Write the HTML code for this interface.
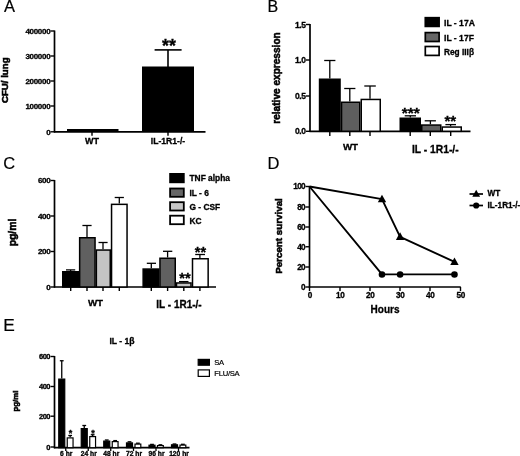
<!DOCTYPE html>
<html lang="en"><head><meta charset="utf-8"><title>Figure</title>
<style>
html,body{margin:0;padding:0;background:#fff;}
body{width:520px;height:456px;overflow:hidden;}
svg{display:block;filter:blur(0.4px);}
svg text{font-family:"Liberation Sans",Arial,Helvetica,sans-serif;fill:#000;}
</style></head><body>
<svg width="520" height="456" viewBox="0 0 520 456">
<rect x="0" y="0" width="520" height="456" fill="#fff"/>
<text x="3.9" y="11.8" font-size="16.5" font-weight="normal" text-anchor="start" stroke="#000" stroke-width="0.2">A</text>
<text x="267.6" y="11.6" font-size="16" font-weight="normal" text-anchor="start" stroke="#000" stroke-width="0.2">B</text>
<text x="3.3" y="169.3" font-size="16.5" font-weight="normal" text-anchor="start" stroke="#000" stroke-width="0.2">C</text>
<text x="267.5" y="169.2" font-size="16.5" font-weight="normal" text-anchor="start" stroke="#000" stroke-width="0.2">D</text>
<text x="3.2" y="330.8" font-size="17.3" font-weight="normal" text-anchor="start" stroke="#000" stroke-width="0.2">E</text>
<line x1="54.5" y1="30.5" x2="54.5" y2="132.4" stroke="#000" stroke-width="1.7"/>
<line x1="53.9" y1="131.8" x2="205.5" y2="131.8" stroke="#000" stroke-width="1.7"/>
<line x1="50.5" y1="31" x2="54.5" y2="31" stroke="#000" stroke-width="1.4"/>
<text x="50.3" y="33.85" font-size="8" font-weight="bold" text-anchor="end" stroke="#000" stroke-width="0.3" letter-spacing="-0.3">400000</text>
<line x1="50.5" y1="56" x2="54.5" y2="56" stroke="#000" stroke-width="1.4"/>
<text x="50.3" y="58.85" font-size="8" font-weight="bold" text-anchor="end" stroke="#000" stroke-width="0.3" letter-spacing="-0.3">300000</text>
<line x1="50.5" y1="81" x2="54.5" y2="81" stroke="#000" stroke-width="1.4"/>
<text x="50.3" y="83.85" font-size="8" font-weight="bold" text-anchor="end" stroke="#000" stroke-width="0.3" letter-spacing="-0.3">200000</text>
<line x1="50.5" y1="106" x2="54.5" y2="106" stroke="#000" stroke-width="1.4"/>
<text x="50.3" y="108.85" font-size="8" font-weight="bold" text-anchor="end" stroke="#000" stroke-width="0.3" letter-spacing="-0.3">100000</text>
<line x1="50.5" y1="131.8" x2="54.5" y2="131.8" stroke="#000" stroke-width="1.4"/>
<text x="50.3" y="134.65" font-size="8" font-weight="bold" text-anchor="end" stroke="#000" stroke-width="0.3" letter-spacing="-0.3">0</text>
<line x1="92" y1="131.8" x2="92" y2="135.8" stroke="#000" stroke-width="1.4"/>
<line x1="168" y1="131.8" x2="168" y2="135.8" stroke="#000" stroke-width="1.4"/>
<rect x="67" y="129.0" width="51.5" height="2.8" fill="#000"/>
<line x1="168" y1="49.9" x2="168" y2="67" stroke="#000" stroke-width="1.6"/>
<line x1="154.6" y1="49.9" x2="181.6" y2="49.9" stroke="#000" stroke-width="1.6"/>
<rect x="142" y="66.5" width="52" height="65.3" fill="#000"/>
<text x="168.9" y="51.88" font-size="17.8" font-weight="bold" text-anchor="middle" stroke="#000" stroke-width="0.3">**</text>
<text x="92" y="143.6" font-size="9" font-weight="bold" text-anchor="middle" stroke="#000" stroke-width="0.3">WT</text>
<text x="168" y="143.8" font-size="8.6" font-weight="bold" text-anchor="middle" stroke="#000" stroke-width="0.3">IL-1R1-/-</text>
<text x="7.8" y="80.25" font-size="9.7" font-weight="bold" text-anchor="middle" stroke="#000" stroke-width="0.55" transform="rotate(-90 7.8 80.25)">CFU/ lung</text>
<line x1="310" y1="24" x2="310" y2="131.9" stroke="#000" stroke-width="1.7"/>
<line x1="309.4" y1="131.3" x2="470.5" y2="131.3" stroke="#000" stroke-width="1.7"/>
<line x1="306" y1="24.5" x2="310" y2="24.5" stroke="#000" stroke-width="1.4"/>
<text x="305.6" y="27.5" font-size="8.5" font-weight="bold" text-anchor="end" stroke="#000" stroke-width="0.3" letter-spacing="-0.4">1.5</text>
<line x1="306" y1="60" x2="310" y2="60" stroke="#000" stroke-width="1.4"/>
<text x="305.6" y="63.0" font-size="8.5" font-weight="bold" text-anchor="end" stroke="#000" stroke-width="0.3" letter-spacing="-0.4">1.0</text>
<line x1="306" y1="96" x2="310" y2="96" stroke="#000" stroke-width="1.4"/>
<text x="305.6" y="99.0" font-size="8.5" font-weight="bold" text-anchor="end" stroke="#000" stroke-width="0.3" letter-spacing="-0.4">0.5</text>
<line x1="306" y1="131.3" x2="310" y2="131.3" stroke="#000" stroke-width="1.4"/>
<text x="305.6" y="134.3" font-size="8.5" font-weight="bold" text-anchor="end" stroke="#000" stroke-width="0.3" letter-spacing="-0.4">0.0</text>
<line x1="329.8" y1="131.3" x2="329.8" y2="136" stroke="#000" stroke-width="1.4"/>
<line x1="349.8" y1="131.3" x2="349.8" y2="136" stroke="#000" stroke-width="1.4"/>
<line x1="370" y1="131.3" x2="370" y2="136" stroke="#000" stroke-width="1.4"/>
<line x1="410.2" y1="131.3" x2="410.2" y2="136" stroke="#000" stroke-width="1.4"/>
<line x1="430.3" y1="131.3" x2="430.3" y2="136" stroke="#000" stroke-width="1.4"/>
<line x1="450.7" y1="131.3" x2="450.7" y2="136" stroke="#000" stroke-width="1.4"/>
<line x1="329.8" y1="60.5" x2="329.8" y2="78.5" stroke="#000" stroke-width="1.3"/>
<line x1="324.2" y1="60.5" x2="335.4" y2="60.5" stroke="#000" stroke-width="1.3"/>
<rect x="319.55" y="79.25" width="20.5" height="52.05000000000001" fill="#000" stroke="#000" stroke-width="1.5"/>
<line x1="349.8" y1="88.5" x2="349.8" y2="101.5" stroke="#000" stroke-width="1.3"/>
<line x1="344.2" y1="88.5" x2="355.4" y2="88.5" stroke="#000" stroke-width="1.3"/>
<rect x="341.55" y="102.25" width="18.19999999999999" height="29.05000000000001" fill="#5e5e5e" stroke="#000" stroke-width="1.5"/>
<line x1="370" y1="86" x2="370" y2="98.7" stroke="#000" stroke-width="1.3"/>
<line x1="364.3" y1="86" x2="375.8" y2="86" stroke="#000" stroke-width="1.3"/>
<rect x="361.25" y="99.45" width="19.0" height="31.85000000000001" fill="#fff" stroke="#000" stroke-width="1.5"/>
<line x1="410.3" y1="115.8" x2="410.3" y2="117.5" stroke="#000" stroke-width="1.3"/>
<line x1="404.7" y1="115.8" x2="416" y2="115.8" stroke="#000" stroke-width="1.3"/>
<rect x="400.25" y="118.25" width="20.0" height="13.050000000000011" fill="#000" stroke="#000" stroke-width="1.5"/>
<line x1="430.4" y1="120.8" x2="430.4" y2="124.3" stroke="#000" stroke-width="1.3"/>
<line x1="424.7" y1="120.8" x2="435.9" y2="120.8" stroke="#000" stroke-width="1.3"/>
<rect x="421.75" y="125.05" width="19.0" height="6.250000000000014" fill="#5e5e5e" stroke="#000" stroke-width="1.5"/>
<line x1="450.6" y1="124.6" x2="450.6" y2="126.3" stroke="#000" stroke-width="1.3"/>
<line x1="445.4" y1="124.6" x2="456" y2="124.6" stroke="#000" stroke-width="1.3"/>
<rect x="442.25" y="127.05" width="19.0" height="4.250000000000014" fill="#fff" stroke="#000" stroke-width="1.5"/>
<text x="410.75" y="118.39" font-size="15.5" font-weight="bold" text-anchor="middle" stroke="#000" stroke-width="0.3">***</text>
<text x="450.25" y="125.95" font-size="15" font-weight="bold" text-anchor="middle" stroke="#000" stroke-width="0.3">**</text>
<text x="350.5" y="150" font-size="9.8" font-weight="bold" text-anchor="middle" stroke="#000" stroke-width="0.3">WT</text>
<text x="435.3" y="152.5" font-size="10.3" font-weight="bold" text-anchor="middle" stroke="#000" stroke-width="0.3">IL - 1R1-/-</text>
<text x="280.3" y="78" font-size="10.1" font-weight="bold" text-anchor="middle" stroke="#000" stroke-width="0.55" transform="rotate(-90 280.3 78)">relative expression</text>
<rect x="425.3" y="17.7" width="13.8" height="8.7" fill="#000" stroke="#000" stroke-width="1.7"/>
<rect x="425.3" y="32.6" width="13.8" height="8.9" fill="#666" stroke="#000" stroke-width="1.7"/>
<rect x="425.3" y="46.5" width="13.8" height="8.9" fill="#fff" stroke="#000" stroke-width="1.7"/>
<text x="444" y="25.8" font-size="8.6" font-weight="bold" text-anchor="start" stroke="#000" stroke-width="0.3">IL - 17A</text>
<text x="444" y="40.5" font-size="8.6" font-weight="bold" text-anchor="start" stroke="#000" stroke-width="0.3">IL - 17F</text>
<text x="444" y="54.5" font-size="8.3" font-weight="bold" text-anchor="start" stroke="#000" stroke-width="0.3">Reg IIIβ</text>
<line x1="54.5" y1="180" x2="54.5" y2="287.6" stroke="#000" stroke-width="1.7"/>
<line x1="53.9" y1="287" x2="216" y2="287" stroke="#000" stroke-width="1.7"/>
<line x1="50.5" y1="180.5" x2="54.5" y2="180.5" stroke="#000" stroke-width="1.4"/>
<text x="50.2" y="183.4" font-size="8.1" font-weight="bold" text-anchor="end" stroke="#000" stroke-width="0.3" letter-spacing="-0.45">600</text>
<line x1="50.5" y1="216" x2="54.5" y2="216" stroke="#000" stroke-width="1.4"/>
<text x="50.2" y="218.9" font-size="8.1" font-weight="bold" text-anchor="end" stroke="#000" stroke-width="0.3" letter-spacing="-0.45">400</text>
<line x1="50.5" y1="251.5" x2="54.5" y2="251.5" stroke="#000" stroke-width="1.4"/>
<text x="50.2" y="254.4" font-size="8.1" font-weight="bold" text-anchor="end" stroke="#000" stroke-width="0.3" letter-spacing="-0.45">200</text>
<line x1="50.5" y1="287" x2="54.5" y2="287" stroke="#000" stroke-width="1.4"/>
<text x="50.2" y="289.9" font-size="8.1" font-weight="bold" text-anchor="end" stroke="#000" stroke-width="0.3" letter-spacing="-0.45">0</text>
<line x1="70.7" y1="287" x2="70.7" y2="291" stroke="#000" stroke-width="1.4"/>
<line x1="87" y1="287" x2="87" y2="291" stroke="#000" stroke-width="1.4"/>
<line x1="103" y1="287" x2="103" y2="291" stroke="#000" stroke-width="1.4"/>
<line x1="119.3" y1="287" x2="119.3" y2="291" stroke="#000" stroke-width="1.4"/>
<line x1="151.3" y1="287" x2="151.3" y2="291" stroke="#000" stroke-width="1.4"/>
<line x1="167.6" y1="287" x2="167.6" y2="291" stroke="#000" stroke-width="1.4"/>
<line x1="183.8" y1="287" x2="183.8" y2="291" stroke="#000" stroke-width="1.4"/>
<line x1="199.9" y1="287" x2="199.9" y2="291" stroke="#000" stroke-width="1.4"/>
<line x1="70.6" y1="269.9" x2="70.6" y2="271" stroke="#000" stroke-width="1.3"/>
<line x1="66" y1="269.9" x2="75.2" y2="269.9" stroke="#000" stroke-width="1.3"/>
<rect x="62.75" y="271.75" width="15.900000000000006" height="15.25" fill="#000" stroke="#000" stroke-width="1.5"/>
<line x1="87" y1="225.5" x2="87" y2="237" stroke="#000" stroke-width="1.3"/>
<line x1="82.4" y1="225.5" x2="91.6" y2="225.5" stroke="#000" stroke-width="1.3"/>
<rect x="79.65" y="237.75" width="15.399999999999991" height="49.25" fill="#606060" stroke="#000" stroke-width="1.5"/>
<line x1="103" y1="242.5" x2="103" y2="249.3" stroke="#000" stroke-width="1.3"/>
<line x1="98.5" y1="242.5" x2="107.6" y2="242.5" stroke="#000" stroke-width="1.3"/>
<rect x="96.35" y="250.05" width="13.900000000000006" height="36.94999999999999" fill="#c4c4c4" stroke="#000" stroke-width="1.5"/>
<line x1="119.3" y1="197.5" x2="119.3" y2="203.6" stroke="#000" stroke-width="1.3"/>
<line x1="114.7" y1="197.5" x2="123.9" y2="197.5" stroke="#000" stroke-width="1.3"/>
<rect x="111.55" y="204.35" width="15.5" height="82.65" fill="#fff" stroke="#000" stroke-width="1.5"/>
<line x1="151.3" y1="263.3" x2="151.3" y2="268.3" stroke="#000" stroke-width="1.3"/>
<line x1="146.8" y1="263.3" x2="156" y2="263.3" stroke="#000" stroke-width="1.3"/>
<rect x="143.15" y="269.05" width="15.5" height="17.94999999999999" fill="#000" stroke="#000" stroke-width="1.5"/>
<line x1="167.6" y1="251.3" x2="167.6" y2="257.5" stroke="#000" stroke-width="1.3"/>
<line x1="163" y1="251.3" x2="172.3" y2="251.3" stroke="#000" stroke-width="1.3"/>
<rect x="159.95" y="258.25" width="15.300000000000011" height="28.75" fill="#606060" stroke="#000" stroke-width="1.5"/>
<line x1="183.75" y1="281.6" x2="183.75" y2="282.2" stroke="#000" stroke-width="1.3"/>
<line x1="179" y1="281.6" x2="188.5" y2="281.6" stroke="#000" stroke-width="1.3"/>
<rect x="176.5" y="282.95" width="14.5" height="4.050000000000011" fill="#c4c4c4" stroke="#000" stroke-width="1.5"/>
<line x1="199.9" y1="254.5" x2="199.9" y2="258" stroke="#000" stroke-width="1.3"/>
<line x1="195.2" y1="254.5" x2="205" y2="254.5" stroke="#000" stroke-width="1.3"/>
<rect x="192.5" y="258.75" width="15.650000000000006" height="28.25" fill="#fff" stroke="#000" stroke-width="1.5"/>
<text x="185" y="283.0" font-size="14.5" font-weight="bold" text-anchor="middle" stroke="#000" stroke-width="0.3">**</text>
<text x="200.5" y="256.5" font-size="14.5" font-weight="bold" text-anchor="middle" stroke="#000" stroke-width="0.3">**</text>
<text x="95.5" y="305.9" font-size="9.8" font-weight="bold" text-anchor="middle" stroke="#000" stroke-width="0.3">WT</text>
<text x="179" y="307.5" font-size="10" font-weight="bold" text-anchor="middle" stroke="#000" stroke-width="0.3">IL - 1R1-/-</text>
<text x="16.3" y="232.5" font-size="10.4" font-weight="bold" text-anchor="middle" stroke="#000" stroke-width="0.55" transform="rotate(-90 16.3 232.5)">pg/ml</text>
<rect x="170.1" y="173.9" width="13.7" height="8.4" fill="#000" stroke="#000" stroke-width="1.8"/>
<rect x="170.1" y="188.5" width="13.7" height="8.3" fill="#666" stroke="#000" stroke-width="1.8"/>
<rect x="170.1" y="202.2" width="13.7" height="8.3" fill="#c6c6c6" stroke="#000" stroke-width="1.8"/>
<rect x="170.1" y="215.7" width="13.7" height="8.5" fill="#fff" stroke="#000" stroke-width="1.8"/>
<text x="189.5" y="181.1" font-size="8.4" font-weight="bold" text-anchor="start" stroke="#000" stroke-width="0.3">TNF alpha</text>
<text x="189.5" y="195.6" font-size="8.4" font-weight="bold" text-anchor="start" stroke="#000" stroke-width="0.3">IL - 6</text>
<text x="189.5" y="209.6" font-size="8.4" font-weight="bold" text-anchor="start" stroke="#000" stroke-width="0.3">G - CSF</text>
<text x="189.5" y="224" font-size="8.4" font-weight="bold" text-anchor="start" stroke="#000" stroke-width="0.3">KC</text>
<line x1="309.5" y1="186" x2="309.5" y2="287.6" stroke="#000" stroke-width="1.7"/>
<line x1="308.9" y1="287" x2="460.75" y2="287" stroke="#000" stroke-width="1.7"/>
<line x1="305.5" y1="186.5" x2="309.5" y2="186.5" stroke="#000" stroke-width="1.4"/>
<text x="304.9" y="189.45" font-size="8.2" font-weight="bold" text-anchor="end" stroke="#000" stroke-width="0.3" letter-spacing="-0.7">100</text>
<line x1="305.5" y1="207" x2="309.5" y2="207" stroke="#000" stroke-width="1.4"/>
<text x="304.9" y="209.95" font-size="8.2" font-weight="bold" text-anchor="end" stroke="#000" stroke-width="0.3" letter-spacing="-0.7">80</text>
<line x1="305.5" y1="227" x2="309.5" y2="227" stroke="#000" stroke-width="1.4"/>
<text x="304.9" y="229.95" font-size="8.2" font-weight="bold" text-anchor="end" stroke="#000" stroke-width="0.3" letter-spacing="-0.7">60</text>
<line x1="305.5" y1="246.75" x2="309.5" y2="246.75" stroke="#000" stroke-width="1.4"/>
<text x="304.9" y="249.7" font-size="8.2" font-weight="bold" text-anchor="end" stroke="#000" stroke-width="0.3" letter-spacing="-0.7">40</text>
<line x1="305.5" y1="267" x2="309.5" y2="267" stroke="#000" stroke-width="1.4"/>
<text x="304.9" y="269.95" font-size="8.2" font-weight="bold" text-anchor="end" stroke="#000" stroke-width="0.3" letter-spacing="-0.7">20</text>
<line x1="305.5" y1="287" x2="309.5" y2="287" stroke="#000" stroke-width="1.4"/>
<text x="304.9" y="289.95" font-size="8.2" font-weight="bold" text-anchor="end" stroke="#000" stroke-width="0.3" letter-spacing="-0.7">0</text>
<line x1="309.5" y1="287" x2="309.5" y2="291" stroke="#000" stroke-width="1.4"/>
<text x="309.7" y="298.4" font-size="8.2" font-weight="bold" text-anchor="middle" stroke="#000" stroke-width="0.3" letter-spacing="-0.45">0</text>
<line x1="340" y1="287" x2="340" y2="291" stroke="#000" stroke-width="1.4"/>
<text x="340.2" y="298.4" font-size="8.2" font-weight="bold" text-anchor="middle" stroke="#000" stroke-width="0.3" letter-spacing="-0.45">10</text>
<line x1="370" y1="287" x2="370" y2="291" stroke="#000" stroke-width="1.4"/>
<text x="370.2" y="298.4" font-size="8.2" font-weight="bold" text-anchor="middle" stroke="#000" stroke-width="0.3" letter-spacing="-0.45">20</text>
<line x1="400" y1="287" x2="400" y2="291" stroke="#000" stroke-width="1.4"/>
<text x="400.2" y="298.4" font-size="8.2" font-weight="bold" text-anchor="middle" stroke="#000" stroke-width="0.3" letter-spacing="-0.45">30</text>
<line x1="430" y1="287" x2="430" y2="291" stroke="#000" stroke-width="1.4"/>
<text x="430.2" y="298.4" font-size="8.2" font-weight="bold" text-anchor="middle" stroke="#000" stroke-width="0.3" letter-spacing="-0.45">40</text>
<line x1="460.5" y1="287" x2="460.5" y2="291" stroke="#000" stroke-width="1.4"/>
<text x="460.7" y="298.4" font-size="8.2" font-weight="bold" text-anchor="middle" stroke="#000" stroke-width="0.3" letter-spacing="-0.45">50</text>
<polyline fill="none" stroke="#000" stroke-width="1.9" stroke-linejoin="round" points="309.5,186.5 382.0,199.1 400.1,236.8 454.5,261.9"/>
<polygon points="381.98,194.6525 386.18,202.2125 377.78000000000003,202.2125" fill="#000"/>
<polygon points="400.1,232.34 404.3,239.9 395.90000000000003,239.9" fill="#000"/>
<polygon points="454.46000000000004,257.465 458.66,265.025 450.26000000000005,265.025" fill="#000"/>
<polyline fill="none" stroke="#000" stroke-width="1.9" stroke-linejoin="round" points="309.5,186.5 382.0,274.4 400.1,274.4 454.5,274.4"/>
<circle cx="381.98" cy="274.4375" r="3.3" fill="#000"/>
<circle cx="400.1" cy="274.4375" r="3.3" fill="#000"/>
<circle cx="454.46000000000004" cy="274.4375" r="3.3" fill="#000"/>
<text x="385" y="312.5" font-size="10" font-weight="bold" text-anchor="middle" stroke="#000" stroke-width="0.3">Hours</text>
<text x="281.6" y="236" font-size="9.8" font-weight="bold" text-anchor="middle" stroke="#000" stroke-width="0.55" transform="rotate(-90 281.6 236)">Percent survival</text>
<line x1="469.5" y1="194" x2="483" y2="194" stroke="#000" stroke-width="1.7"/>
<polygon points="476.2,189.705 480.09999999999997,196.72500000000002 472.3,196.72500000000002" fill="#000"/>
<line x1="469.5" y1="205.5" x2="483" y2="205.5" stroke="#000" stroke-width="1.7"/>
<circle cx="476.2" cy="205.5" r="3.1" fill="#000"/>
<text x="487.6" y="196.3" font-size="8.2" font-weight="bold" text-anchor="start" stroke="#000" stroke-width="0.3">WT</text>
<text x="487.6" y="207.9" font-size="8.2" font-weight="bold" text-anchor="start" stroke="#000" stroke-width="0.3">IL-1R1-/-</text>
<line x1="54.5" y1="356" x2="54.5" y2="448.3" stroke="#000" stroke-width="1.7"/>
<line x1="53.9" y1="447.7" x2="189.5" y2="447.7" stroke="#000" stroke-width="1.7"/>
<line x1="50.5" y1="356.5" x2="54.5" y2="356.5" stroke="#000" stroke-width="1.4"/>
<text x="50" y="359.15" font-size="7.5" font-weight="bold" text-anchor="end" stroke="#000" stroke-width="0.3" letter-spacing="-0.5">600</text>
<line x1="50.5" y1="386.5" x2="54.5" y2="386.5" stroke="#000" stroke-width="1.4"/>
<text x="50" y="389.15" font-size="7.5" font-weight="bold" text-anchor="end" stroke="#000" stroke-width="0.3" letter-spacing="-0.5">400</text>
<line x1="50.5" y1="416.2" x2="54.5" y2="416.2" stroke="#000" stroke-width="1.4"/>
<text x="50" y="418.84999999999997" font-size="7.5" font-weight="bold" text-anchor="end" stroke="#000" stroke-width="0.3" letter-spacing="-0.5">200</text>
<line x1="50.5" y1="447" x2="54.5" y2="447" stroke="#000" stroke-width="1.4"/>
<text x="50" y="449.65" font-size="7.5" font-weight="bold" text-anchor="end" stroke="#000" stroke-width="0.3" letter-spacing="-0.5">0</text>
<line x1="65.75" y1="447.7" x2="65.75" y2="451.1" stroke="#000" stroke-width="1.3"/>
<line x1="61.75" y1="360.75" x2="61.75" y2="378.5" stroke="#000" stroke-width="1.3"/>
<line x1="59.85" y1="360.75" x2="63.65" y2="360.75" stroke="#000" stroke-width="1.3"/>
<rect x="58.75" y="379.1" width="5.999999999999996" height="68.6" fill="#000" stroke="#000" stroke-width="1.2"/>
<line x1="70.15" y1="435.5" x2="70.15" y2="437.3" stroke="#000" stroke-width="1.3"/>
<line x1="68.25" y1="435.5" x2="72.05" y2="435.5" stroke="#000" stroke-width="1.3"/>
<rect x="67.25" y="437.90000000000003" width="5.8" height="9.799999999999978" fill="#fff" stroke="#000" stroke-width="1.2"/>
<text x="66.25" y="456.3" font-size="6.7" font-weight="bold" text-anchor="middle" stroke="#000" stroke-width="0.3">6 hr</text>
<line x1="88.25" y1="447.7" x2="88.25" y2="451.1" stroke="#000" stroke-width="1.3"/>
<line x1="84.25" y1="425.5" x2="84.25" y2="428" stroke="#000" stroke-width="1.3"/>
<line x1="82.35" y1="425.5" x2="86.15" y2="425.5" stroke="#000" stroke-width="1.3"/>
<rect x="81.25" y="428.6" width="5.9999999999999885" height="19.099999999999987" fill="#000" stroke="#000" stroke-width="1.2"/>
<line x1="92.65" y1="434.75" x2="92.65" y2="436" stroke="#000" stroke-width="1.3"/>
<line x1="90.75" y1="434.75" x2="94.55" y2="434.75" stroke="#000" stroke-width="1.3"/>
<rect x="89.75" y="436.6" width="5.8" height="11.099999999999989" fill="#fff" stroke="#000" stroke-width="1.2"/>
<text x="88.75" y="456.3" font-size="6.7" font-weight="bold" text-anchor="middle" stroke="#000" stroke-width="0.3">24 hr</text>
<line x1="110.75" y1="447.7" x2="110.75" y2="451.1" stroke="#000" stroke-width="1.3"/>
<line x1="106.75" y1="440" x2="106.75" y2="440.5" stroke="#000" stroke-width="1.3"/>
<line x1="104.85" y1="440" x2="108.65" y2="440" stroke="#000" stroke-width="1.3"/>
<rect x="103.75" y="441.1" width="5.9999999999999885" height="6.599999999999989" fill="#000" stroke="#000" stroke-width="1.2"/>
<line x1="115.15" y1="440.6" x2="115.15" y2="441" stroke="#000" stroke-width="1.3"/>
<line x1="113.25" y1="440.6" x2="117.05" y2="440.6" stroke="#000" stroke-width="1.3"/>
<rect x="112.25" y="441.6" width="5.8" height="6.099999999999989" fill="#fff" stroke="#000" stroke-width="1.2"/>
<text x="111.25" y="456.3" font-size="6.7" font-weight="bold" text-anchor="middle" stroke="#000" stroke-width="0.3">48 hr</text>
<line x1="133.5" y1="447.7" x2="133.5" y2="451.1" stroke="#000" stroke-width="1.3"/>
<line x1="129.5" y1="441.8" x2="129.5" y2="442.3" stroke="#000" stroke-width="1.3"/>
<line x1="127.6" y1="441.8" x2="131.4" y2="441.8" stroke="#000" stroke-width="1.3"/>
<rect x="126.5" y="442.90000000000003" width="5.9999999999999885" height="4.799999999999978" fill="#000" stroke="#000" stroke-width="1.2"/>
<line x1="137.9" y1="443.2" x2="137.9" y2="443.5" stroke="#000" stroke-width="1.3"/>
<line x1="136.0" y1="443.2" x2="139.8" y2="443.2" stroke="#000" stroke-width="1.3"/>
<rect x="135.0" y="444.1" width="5.8" height="3.5999999999999885" fill="#fff" stroke="#000" stroke-width="1.2"/>
<text x="134.0" y="456.3" font-size="6.7" font-weight="bold" text-anchor="middle" stroke="#000" stroke-width="0.3">72 hr</text>
<line x1="156" y1="447.7" x2="156" y2="451.1" stroke="#000" stroke-width="1.3"/>
<line x1="152.0" y1="444.4" x2="152.0" y2="444.6" stroke="#000" stroke-width="1.3"/>
<line x1="150.1" y1="444.4" x2="153.9" y2="444.4" stroke="#000" stroke-width="1.3"/>
<rect x="149.0" y="445.20000000000005" width="5.9999999999999885" height="2.499999999999966" fill="#000" stroke="#000" stroke-width="1.2"/>
<line x1="160.4" y1="444.8" x2="160.4" y2="445" stroke="#000" stroke-width="1.3"/>
<line x1="158.5" y1="444.8" x2="162.3" y2="444.8" stroke="#000" stroke-width="1.3"/>
<rect x="157.5" y="445.6" width="5.8" height="2.0999999999999885" fill="#fff" stroke="#000" stroke-width="1.2"/>
<text x="156.5" y="456.3" font-size="6.7" font-weight="bold" text-anchor="middle" stroke="#000" stroke-width="0.3">96 hr</text>
<line x1="178.5" y1="447.7" x2="178.5" y2="451.1" stroke="#000" stroke-width="1.3"/>
<line x1="174.5" y1="444" x2="174.5" y2="444.2" stroke="#000" stroke-width="1.3"/>
<line x1="172.6" y1="444" x2="176.4" y2="444" stroke="#000" stroke-width="1.3"/>
<rect x="171.5" y="444.8" width="5.9999999999999885" height="2.9" fill="#000" stroke="#000" stroke-width="1.2"/>
<line x1="182.9" y1="444.3" x2="182.9" y2="444.5" stroke="#000" stroke-width="1.3"/>
<line x1="181.0" y1="444.3" x2="184.8" y2="444.3" stroke="#000" stroke-width="1.3"/>
<rect x="180.0" y="445.1" width="5.8" height="2.5999999999999885" fill="#fff" stroke="#000" stroke-width="1.2"/>
<text x="179.0" y="456.3" font-size="6.7" font-weight="bold" text-anchor="middle" stroke="#000" stroke-width="0.3">120 hr</text>
<text x="70.4" y="436.41" font-size="9" font-weight="bold" text-anchor="middle" stroke="#000" stroke-width="0.3">*</text>
<text x="93" y="436.41" font-size="9" font-weight="bold" text-anchor="middle" stroke="#000" stroke-width="0.3">*</text>
<text x="122" y="344.2" font-size="8.6" font-weight="bold" text-anchor="middle" stroke="#000" stroke-width="0.3">IL - 1β</text>
<text x="17.8" y="401" font-size="7.8" font-weight="bold" text-anchor="middle" stroke="#000" stroke-width="0.55" transform="rotate(-90 17.8 401)">pg/ml</text>
<rect x="198.2" y="359.4" width="11.2" height="5.8" fill="#000" stroke="#000" stroke-width="1.2"/>
<rect x="198.2" y="369.9" width="11.2" height="6.5" fill="#fff" stroke="#000" stroke-width="1.2"/>
<text x="214.3" y="365.2" font-size="7.6" font-weight="normal" text-anchor="start" stroke="#000" stroke-width="0.2" letter-spacing="-0.25">SA</text>
<text x="214.3" y="376.1" font-size="7.6" font-weight="normal" text-anchor="start" stroke="#000" stroke-width="0.2" letter-spacing="-0.25">FLU/SA</text>
</svg>
</body></html>
